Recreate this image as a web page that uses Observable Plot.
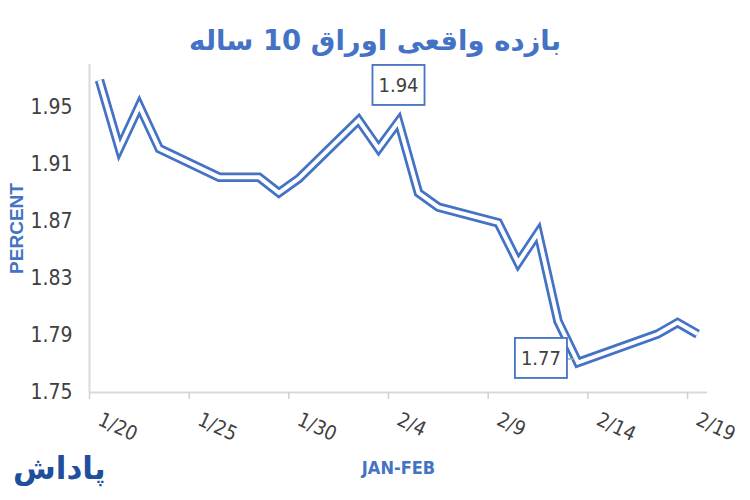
<!DOCTYPE html>
<html>
<head>
<meta charset="utf-8">
<script src="https://cdn.jsdelivr.net/npm/d3@7"></script>
<script src="https://cdn.jsdelivr.net/npm/@observablehq/plot@0.6"></script>
<style>
  body { margin: 0; background: #fff; }
  #wrap { position: relative; width: 750px; height: 500px; overflow: hidden; background: #fff; }
  #title { box-sizing: border-box; height: 60px; padding-top: 27px; line-height: 1; text-align: center;
           font-family: "DejaVu Sans", sans-serif; font-weight: bold; font-size: 27.5px; color: #4472c4; direction: rtl; }
  #logo { position: absolute; left: 13px; top: 453px; font-family: "DejaVu Sans", sans-serif; font-weight: bold;
          font-size: 31px; color: #1d4f9c; direction: rtl; line-height: 1; }
  #chart svg { display: block; }
</style>
</head>
<body>
<div id="wrap">
  <div id="title">بازده واقعی اوراق 10 ساله</div>
  <div id="chart"></div>
  <div id="logo">پاداش</div>
</div>
<script>
// ---- data ----
const dates = ["2015-01-20","2015-01-21","2015-01-22","2015-01-23","2015-01-26","2015-01-27","2015-01-28",
  "2015-01-29","2015-01-30","2015-02-02","2015-02-03","2015-02-04","2015-02-05","2015-02-06",
  "2015-02-09","2015-02-10","2015-02-11","2015-02-12","2015-02-13","2015-02-17","2015-02-18","2015-02-19"];
const values = [1.969,1.921,1.951,1.921,1.901,1.901,1.901,
  1.890,1.900,1.941,1.921,1.940,1.890,1.880,
  1.869,1.841,1.862,1.800,1.771,1.791,1.799,1.791];
const yTicks = [1.75, 1.79, 1.83, 1.87, 1.91, 1.95];
const xTickDates = ["2015-01-20","2015-01-25","2015-01-30","2015-02-04","2015-02-09","2015-02-14","2015-02-19"];
const xTickLabels = ["1/20","1/25","1/30","2/4","2/9","2/14","2/19"];
const annotDates = ["2015-02-04","2015-02-13"];
const yLabel = "PERCENT";
const xLabel = "JAN-FEB";

// ---- build ----
const HALF_DAY = 12 * 3600 * 1000;
const data = dates.map((d, i) => ({date: new Date(d), value: values[i]}));
const labelDates = xTickDates.map(d => new Date(d));
const edgeDates = labelDates.map(d => new Date(+d - HALF_DAY));
const labelMap = new Map(labelDates.map((d, i) => [+d, xTickLabels[i]]));
const xDomain = [new Date(+new Date(dates[0]) - HALF_DAY), new Date(+new Date(dates[dates.length - 1]) + HALF_DAY)];
const annot = annotDates.map((d, i) => {
  const row = data.find(r => +r.date === +new Date(d));
  return {...row, text: row.value.toFixed(2), side: i === 0 ? "top" : "left"};
});

const blue = "#4472c4";
const gray = "#404040";
const font = "'Liberation Sans Narrow', 'DejaVu Sans Condensed', 'Liberation Sans', sans-serif";

const chart = Plot.plot({
  width: 750, height: 440,
  marginLeft: 89, marginRight: 43, marginTop: 4, marginBottom: 108,
  style: {fontFamily: font, background: "#fff", overflow: "visible"},
  x: {type: "utc", domain: xDomain},
  y: {domain: [1.75, 1.98]},
  marks: [
    Plot.ruleY([yTicks[0]], {stroke: "#d9d9d9", strokeWidth: 2}),
    Plot.ruleX([xDomain[0]], {stroke: "#d9d9d9", strokeWidth: 2}),
    Plot.axisX({ticks: edgeDates, tickSize: 7, tickFormat: () => "", stroke: "#d0d0d0", strokeWidth: 1.5, label: null}),
    Plot.axisX({ticks: labelDates, tickSize: 0, tickPadding: 26, tickRotate: 25,
      tickFormat: d => labelMap.get(+d), fontSize: 20, color: gray, label: null}),
    Plot.axisY({ticks: yTicks, tickSize: 0, tickPadding: 17, tickFormat: d3.format(".2f"),
      fontSize: 21, color: gray, label: null}),
    Plot.text([yLabel], {frameAnchor: "left", rotate: -90, dx: -73, fontSize: 19, fontWeight: "bold",
      fill: blue, fontFamily: "'Liberation Sans', sans-serif", textAnchor: "middle", lineAnchor: "middle"}),
    Plot.text([xLabel], {frameAnchor: "bottom", dy: 76, fontSize: 18, fontWeight: "bold", fill: blue, lineAnchor: "middle"}),
    Plot.line(data, {x: "date", y: "value", stroke: blue, strokeWidth: 9.5, strokeLinejoin: "miter", strokeMiterlimit: 10, strokeLinecap: "butt"}),
    Plot.line(data, {x: "date", y: "value", stroke: "#fff", strokeWidth: 4, strokeLinejoin: "miter", strokeMiterlimit: 10, strokeLinecap: "butt"}),
    Plot.text(annot.filter(a => a.side === "top"), {x: "date", y: "value", text: "text", dy: -36,
      fontSize: 20, fill: gray, lineAnchor: "middle", className: "ann"}),
    Plot.text(annot.filter(a => a.side === "left"), {x: "date", y: "value", text: "text", dx: -37, dy: -4,
      fontSize: 20, fill: gray, lineAnchor: "middle", className: "ann"})
  ]
});
document.getElementById("chart").append(chart);

// boxes behind the annotation labels
const svgBox = chart.getBoundingClientRect();
const xs = chart.scale("x");
const boxG = d3.create("svg:g");
chart.querySelectorAll("g.ann").forEach(g => chart.appendChild(g));
const annGroups = chart.querySelectorAll("g.ann");
annGroups.forEach((g, gi) => {
  const t = g.querySelector("text");
  const r = t.getBoundingClientRect();
  const padX = 6, padY = 8;
  const x0 = r.left - svgBox.left - padX, y0 = r.top - svgBox.top - padY;
  const w = r.width + 2 * padX, h = r.height + 2 * padY;
  const a = gi === 0 ? annot.find(a => a.side === "top") : annot.find(a => a.side === "left");
  if (a.side === "left") {
    const px = xs.apply(a.date);
    boxG.append("line").attr("x1", x0 + w).attr("x2", px - 3)
      .attr("y1", y0 + h / 2 + 1).attr("y2", y0 + h / 2 + 1).attr("stroke", "#a6a6a6").attr("stroke-width", 1.5);
  }
  boxG.append("rect").attr("x", x0).attr("y", y0).attr("width", w).attr("height", h)
    .attr("fill", "#fff").attr("stroke", blue).attr("stroke-width", 1.8);
});
chart.insertBefore(boxG.node(), annGroups[0]);
</script>
</body>
</html>
